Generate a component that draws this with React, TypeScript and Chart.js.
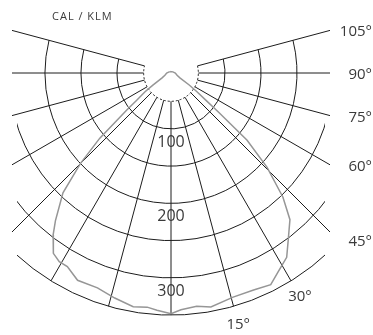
import React, { useEffect, useRef } from "react";
import { Chart, registerables } from "chart.js";

Chart.register(...registerables);

// ---- data ----
const unitLabel = "CAL / KLM";
const ringValues = [75, 125, 175, 225, 275, 325];
const innerRingValue = 38;
const valueTickLabels = [100, 200, 300];
const spokeAngles = [-105, -90, -75, -60, -45, -30, -15, 0, 15, 30, 45, 60, 75, 90, 105];
const sideAngleLabels = [45, 60, 75, 90, 105];
const bottomAngleLabels = [15, 30];
const gridHalfWidth = 221;
const ringHalfWidth = 214;

// luminous intensity (cd/klm) versus angle from nadir, left half
const leftAngles = [0, 3.5, 6, 9.5, 14.5, 19.5, 25, 29, 31.5, 34, 35, 37, 39, 43, 46, 48.5, 51, 52.5, 55, 57, 62, 70, 90, 120, 150, 180];
const leftValues = [323, 319, 316, 318, 312, 306, 307, 297, 297, 292, 285, 272, 255, 220, 175, 132, 79, 60, 44, 30, 14, 9, 6, 3, 2, 2];
// right half
const rightAngles = [0, 2.5, 6.5, 10, 16, 21.5, 26, 29, 33, 36, 40, 43, 46.5, 49.5, 51.5, 53, 55, 57.5, 62, 70, 90, 120, 150, 180];
const rightValues = [323, 318, 315, 319, 313, 313, 316, 306, 295, 277, 257, 228, 184, 139, 85, 60, 44, 30, 14, 9, 6, 3, 2, 2];

const W = 373;
const H = 335;
const CX = 171;
const CY = 73;
const KX = 0.72;
const KY = 0.745;

const rad = (d: number) => (d * Math.PI) / 180;

function buildPoints() {
  const pts: { x: number; y: number }[] = [];
  for (let i = leftAngles.length - 1; i >= 0; i--) {
    const t = rad(leftAngles[i]);
    pts.push({ x: -leftValues[i] * Math.sin(t), y: -leftValues[i] * Math.cos(t) });
  }
  for (let i = 1; i < rightAngles.length; i++) {
    const t = rad(rightAngles[i]);
    pts.push({ x: rightValues[i] * Math.sin(t), y: -rightValues[i] * Math.cos(t) });
  }
  return pts;
}

const gridPlugin = {
  id: "polarGrid",
  beforeDatasetsDraw(chart: any) {
    const { ctx } = chart;
    const xs = chart.scales.x;
    const ys = chart.scales.y;
    const cx = xs.getPixelForValue(0);
    const cy = ys.getPixelForValue(0);
    const ax = xs.getPixelForValue(1) - cx;
    const ay = ys.getPixelForValue(-1) - cy;
    const left = xs.getPixelForValue(-gridHalfWidth);
    const right = xs.getPixelForValue(gridHalfWidth);
    const rLeft = xs.getPixelForValue(-ringHalfWidth);
    const rRight = xs.getPixelForValue(ringHalfWidth);
    const radiusAt = (v: number, phi: number) => {
      const dx = Math.sin(phi);
      const dy = Math.cos(phi);
      return 1 / Math.sqrt((dx / (v * ax)) ** 2 + (dy / (v * ay)) ** 2);
    };
    const tFor = (v: number, phi: number) =>
      Math.atan2(Math.cos(phi) / (v * ay), Math.sin(phi) / (v * ax));
    const lim = rad(105);
    const outer = ringValues[ringValues.length - 1];

    ctx.save();
    ctx.strokeStyle = "#1c1c1c";
    ctx.lineWidth = 1;
    // rings
    ctx.save();
    ctx.beginPath();
    ctx.rect(rLeft, 0, rRight - rLeft, chart.height);
    ctx.clip();
    for (const v of ringValues) {
      ctx.beginPath();
      ctx.ellipse(cx, cy, v * ax, v * ay, 0, tFor(v, lim), tFor(v, -lim) + 2 * Math.PI);
      ctx.stroke();
    }
    ctx.restore();
    // spokes
    ctx.save();
    ctx.beginPath();
    ctx.rect(left, 0, right - left, chart.height);
    ctx.clip();
    for (const a of spokeAngles) {
      const phi = rad(a);
      const dx = Math.sin(phi);
      const dy = Math.cos(phi);
      const r0 = radiusAt(innerRingValue, phi);
      const r1 = radiusAt(outer, phi);
      ctx.beginPath();
      ctx.moveTo(cx + r0 * dx, cy + r0 * dy);
      ctx.lineTo(cx + r1 * dx, cy + r1 * dy);
      ctx.stroke();
    }
    ctx.restore();
    // dashed inner ring
    ctx.setLineDash([2, 2]);
    ctx.beginPath();
    const vi = innerRingValue;
    ctx.ellipse(cx, cy, vi * ax, vi * ay, 0, tFor(vi, lim), tFor(vi, -lim) + 2 * Math.PI);
    ctx.stroke();
    ctx.setLineDash([]);
    ctx.restore();

    // labels
    ctx.save();
    ctx.fillStyle = "#3a3a3a";
    ctx.textBaseline = "alphabetic";
    ctx.font = '16px "Open Sans", sans-serif';
    ctx.textAlign = "center";
    for (const v of valueTickLabels) {
      ctx.fillText(String(v), cx, ys.getPixelForValue(-v) - 1);
    }
    ctx.font = '15px "Open Sans", sans-serif';
    ctx.textAlign = "right";
    for (const a of sideAngleLabels) {
      const phi = rad(a);
      const yEnd = cy + (right - cx) / Math.tan(phi);
      const off = a <= 45 ? 9 : 1;
      ctx.fillText(a + "°", chart.width - 1, yEnd + off + 5);
    }
    ctx.textAlign = "center";
    for (const a of bottomAngleLabels) {
      const phi = rad(a);
      const r = radiusAt(outer, phi) + 18;
      ctx.fillText(a + "°", cx + r * Math.sin(phi), cy + r * Math.cos(phi) + 5);
    }
    ctx.font = '11px "Open Sans", sans-serif';
    ctx.textAlign = "left";
    (ctx as any).letterSpacing = "1px";
    ctx.fillText(unitLabel, 52, 19.5);
    ctx.restore();
  },
};

export default function App() {
  const ref = useRef<HTMLCanvasElement | null>(null);
  useEffect(() => {
    if (!ref.current) return;
    const chart = new Chart(ref.current, {
      type: "scatter",
      data: {
        datasets: [
          {
            data: buildPoints(),
            showLine: true,
            borderColor: "#969696",
            borderWidth: 1.5,
            pointRadius: 0,
            tension: 0,
            fill: false,
          },
        ],
      },
      options: {
        responsive: false,
        animation: false,
        events: [],
        layout: { padding: 0, autoPadding: false },
        plugins: { legend: { display: false }, tooltip: { enabled: false } },
        scales: {
          x: { type: "linear", display: false, min: -CX / KX, max: (W - CX) / KX },
          y: { type: "linear", display: false, min: -(H - CY) / KY, max: CY / KY },
        },
      },
      plugins: [gridPlugin],
    } as any);
    return () => chart.destroy();
  }, []);
  return (
    <div style={{ position: "fixed", left: 0, top: 0, width: W, height: H, background: "#fff" }}>
      <canvas ref={ref} width={W} height={H} style={{ display: "block" }} />
    </div>
  );
}
